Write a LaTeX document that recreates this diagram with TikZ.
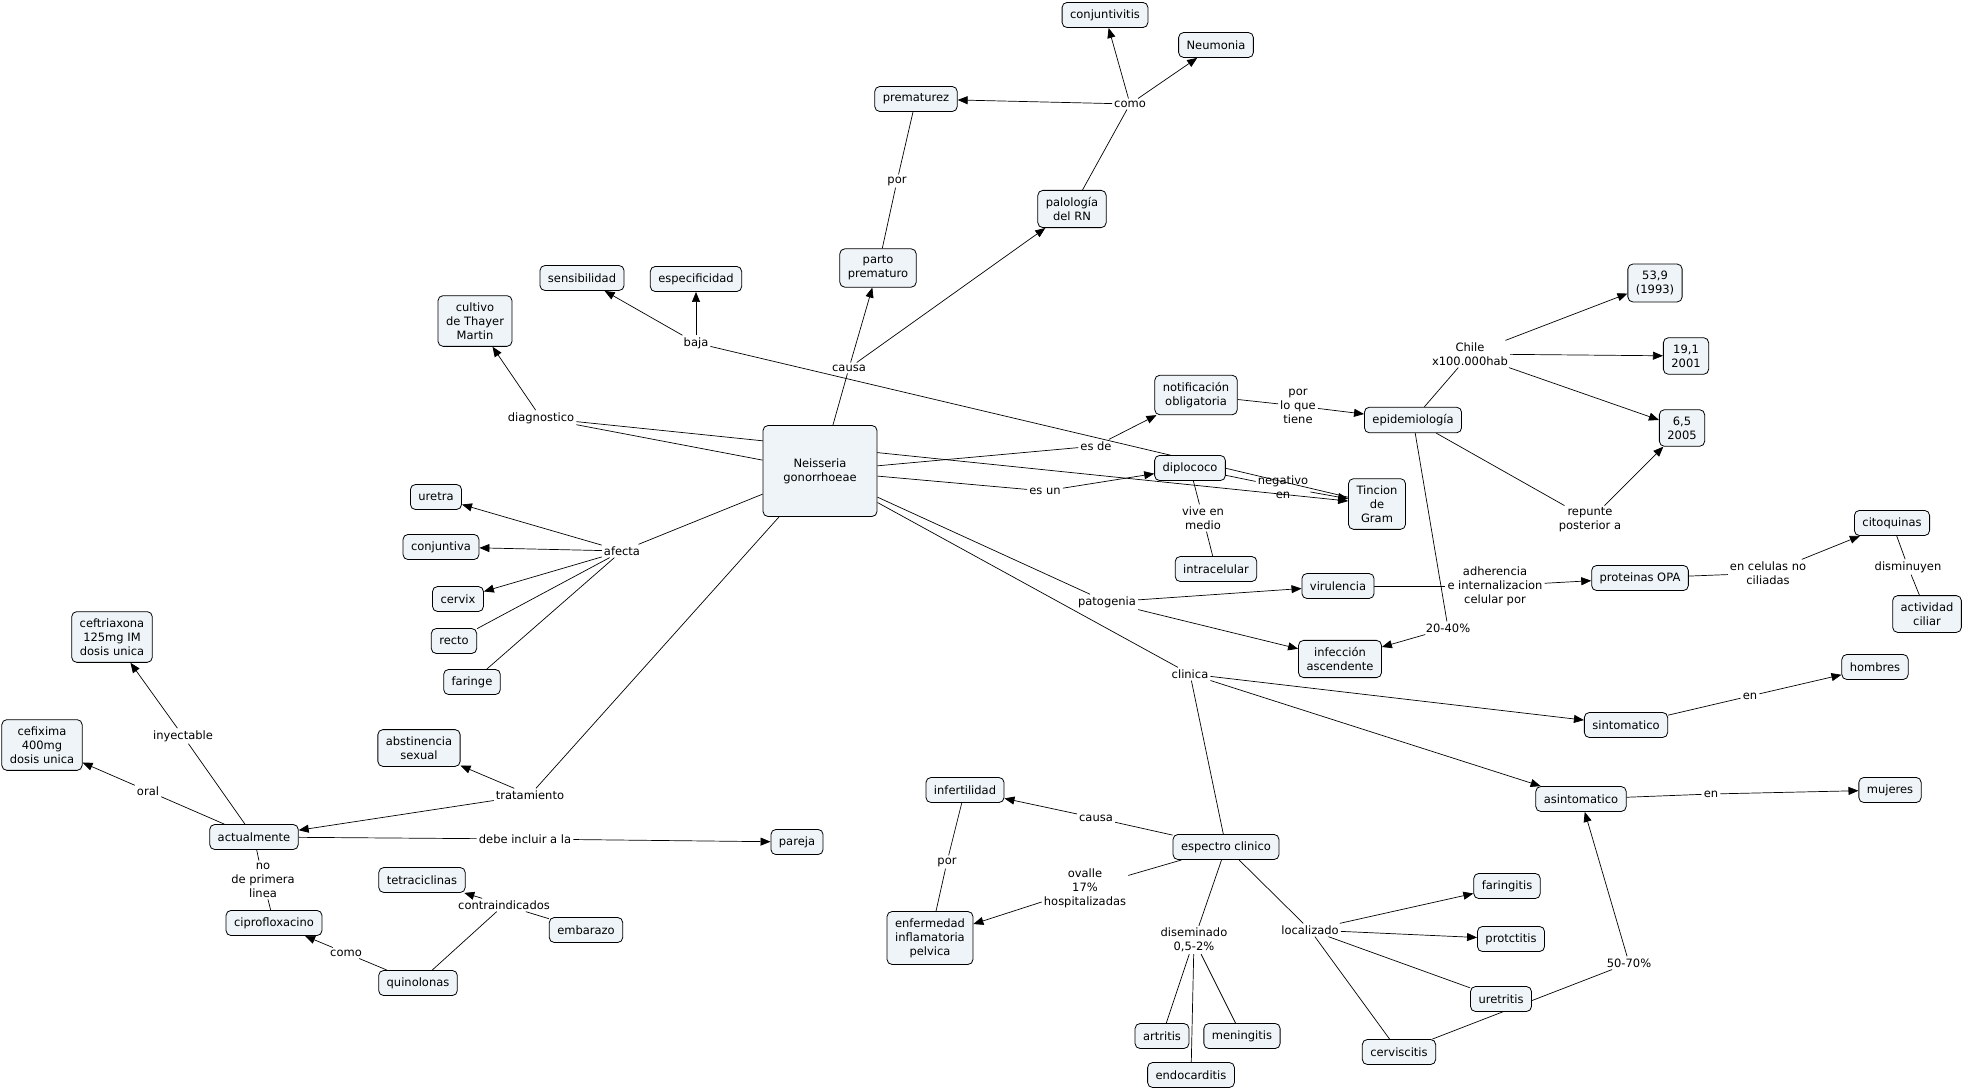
\documentclass[tikz,border=0pt]{standalone}
\usepackage{fontspec}
\setmainfont{DejaVu Sans}
\usetikzlibrary{arrows.meta,backgrounds}
\definecolor{cmapfill}{RGB}{238,244,247}
\begin{document}
\begin{tikzpicture}[x=1pt,y=-1pt,every node/.style={font=\fontsize{11.5}{13.9}\selectfont,align=center},
concept/.style={draw=black,line width=0.8pt,fill=cmapfill,rounded corners=5pt,inner xsep=8pt,inner ysep=7pt,minimum height=25pt},
phrase/.style={inner sep=2pt},
cn/.style={line width=0.7pt},
ar/.style={line width=0.7pt,-{Triangle[length=10pt,width=8pt]}}]
\useasboundingbox (0,0) rectangle (1963,1089);
\node[concept,minimum width=114pt,minimum height=91pt] (neis) at (820,471) {Neisseria\\gonorrhoeae};
\node[concept] (cult) at (475,321) {cultivo\\de Thayer\\Martin};
\node[concept] (sens) at (582,278) {sensibilidad};
\node[concept] (espe) at (696,279) {especificidad};
\node[concept] (part) at (878,268) {parto\\prematuro};
\node[concept] (prem) at (916,99) {prematurez};
\node[concept] (palo) at (1072,209) {palología\\del RN};
\node[concept] (conj) at (1105,15) {conjuntivitis};
\node[concept] (neum) at (1216,45) {Neumonia};
\node[concept] (noti) at (1196,395) {notificación\\obligatoria};
\node[concept] (epid) at (1413,420) {epidemiología};
\node[concept] (dipl) at (1190,468) {diplococo};
\node[concept] (tinc) at (1377,504) {Tincion\\de\\Gram};
\node[concept] (intr) at (1216,569) {intracelular};
\node[concept] (viru) at (1338,586) {virulencia};
\node[concept] (infe) at (1340,659) {infección\\ascendente};
\node[concept] (n539) at (1655,283) {53,9\\(1993)};
\node[concept] (n191) at (1686,356) {19,1\\2001};
\node[concept] (n65) at (1682,428) {6,5\\2005};
\node[concept] (prot) at (1640,578) {proteinas OPA};
\node[concept] (cito) at (1892,523) {citoquinas};
\node[concept] (acti) at (1927,614) {actividad\\ciliar};
\node[concept] (homb) at (1875,667) {hombres};
\node[concept] (sint) at (1626,725) {sintomatico};
\node[concept] (asin) at (1581,799) {asintomatico};
\node[concept] (muje) at (1890,790) {mujeres};
\node[concept] (uret) at (436,497) {uretra};
\node[concept] (conjt) at (441,547) {conjuntiva};
\node[concept] (cerv) at (458,599) {cervix};
\node[concept] (rect) at (454,641) {recto};
\node[concept] (fari) at (472,682) {faringe};
\node[concept] (cefr) at (112,637) {ceftriaxona\\125mg IM\\dosis unica};
\node[concept] (cefi) at (42,745) {cefixima\\400mg\\dosis unica};
\node[concept] (abst) at (419,748) {abstinencia\\sexual};
\node[concept] (actu) at (254,837) {actualmente};
\node[concept] (pare) at (797,842) {pareja};
\node[concept] (tetr) at (422,880) {tetraciclinas};
\node[concept] (emba) at (586,930) {embarazo};
\node[concept] (cipr) at (274,923) {ciprofloxacino};
\node[concept] (quin) at (418,983) {quinolonas};
\node[concept] (infr) at (965,790) {infertilidad};
\node[concept] (espc) at (1226,847) {espectro clinico};
\node[concept] (enfe) at (930,938) {enfermedad\\inflamatoria\\pelvica};
\node[concept] (artr) at (1162,1036) {artritis};
\node[concept] (meni) at (1242,1036) {meningitis};
\node[concept] (endo) at (1191,1075) {endocarditis};
\node[concept] (farg) at (1507,886) {faringitis};
\node[concept] (proc) at (1511,939) {protctitis};
\node[concept] (uretr) at (1501,999) {uretritis};
\node[concept] (cervc) at (1399,1052) {cerviscitis};
\node[phrase] (ldiag) at (541,418) {diagnostico};
\node[phrase] (lbaja) at (696,343) {baja};
\node[phrase] (lcausa) at (849,368) {causa};
\node[phrase] (lpor) at (897,181) {por};
\node[phrase] (lcomo) at (1130,104) {como};
\node[phrase] (lesde) at (1096,446) {es de};
\node[phrase] (lesun) at (1045,491) {es un};
\node[phrase] (lneg) at (1283,487) {negativo\\en};
\node[phrase] (lvive) at (1203,518) {vive en\\medio};
\node[phrase] (lporq) at (1298,406) {por\\lo que\\tiene};
\node[phrase] (lchile) at (1470,354) {Chile\\x100.000hab};
\node[phrase] (lrep) at (1590,520) {repunte\\posterior a};
\node[phrase] (l2040) at (1448,628) {20-40\%};
\node[phrase] (ladh) at (1495,586) {adherencia\\e internalizacion\\celular por};
\node[phrase] (lcelu) at (1768,573) {en celulas no\\ciliadas};
\node[phrase] (ldism) at (1908,567) {disminuyen};
\node[phrase] (lpato) at (1107,602) {patogenia};
\node[phrase] (lclin) at (1190,674) {clinica};
\node[phrase] (len1) at (1750,696) {en};
\node[phrase] (len2) at (1711,794) {en};
\node[phrase] (lafec) at (622,551) {afecta};
\node[phrase] (ltrat) at (530,795) {tratamiento};
\node[phrase] (liny) at (183,736) {inyectable};
\node[phrase] (loral) at (148,791) {oral};
\node[phrase] (ldebe) at (525,839) {debe incluir a la};
\node[phrase] (lnopr) at (263,880) {no\\de primera\\linea};
\node[phrase] (lcomo2) at (346,953) {como};
\node[phrase] (lcontra) at (504,905) {contraindicados};
\node[phrase] (lcausa2) at (1096,818) {causa};
\node[phrase] (lpor2) at (947,862) {por};
\node[phrase] (loval) at (1085,888) {ovalle\\17\%\\hospitalizadas};
\node[phrase] (ldise) at (1194,940) {diseminado\\0,5-2\%};
\node[phrase] (lloca) at (1310,930) {localizado};
\node[phrase] (l5070) at (1629,963) {50-70\%};
\begin{pgfonlayer}{background}
\draw[cn] (neis) -- (ldiag);
\foreach \t in {cult,tinc} {\draw[ar] (ldiag) -- (\t);}
\draw[cn] (tinc) -- (lbaja);
\foreach \t in {sens,espe} {\draw[ar] (lbaja) -- (\t);}
\draw[cn] (neis) -- (lcausa);
\foreach \t in {part,palo} {\draw[ar] (lcausa) -- (\t);}
\draw[cn] (prem) -- (lpor) -- (part);
\draw[cn] (palo) -- (lcomo);
\foreach \t in {prem,conj,neum} {\draw[ar] (lcomo) -- (\t);}
\draw[cn] (neis) -- (lesde);
\draw[ar] (lesde) -- (noti);
\draw[cn] (neis) -- (lesun);
\draw[ar] (lesun) -- (dipl);
\draw[cn] (dipl) -- (lneg);
\draw[ar] (lneg) -- (tinc);
\draw[cn] (dipl) -- (lvive) -- (intr);
\draw[cn] (noti) -- (lporq);
\draw[ar] (lporq) -- (epid);
\draw[cn] (epid) -- (lchile);
\foreach \t in {n539,n191,n65} {\draw[ar] (lchile) -- (\t);}
\draw[cn] (epid) -- (lrep);
\draw[ar] (lrep) -- (n65);
\draw[cn] (epid) -- (l2040);
\draw[ar] (l2040) -- (infe);
\draw[cn] (neis) -- (lpato);
\foreach \t in {viru,infe} {\draw[ar] (lpato) -- (\t);}
\draw[cn] (viru) -- (ladh);
\draw[ar] (ladh) -- (prot);
\draw[cn] (prot) -- (lcelu);
\draw[ar] (lcelu) -- (cito);
\draw[cn] (cito) -- (ldism) -- (acti);
\draw[cn] (neis) -- (lclin);
\foreach \t in {sint,asin} {\draw[ar] (lclin) -- (\t);}
\draw[cn] (lclin) -- (espc);
\draw[cn] (sint) -- (len1);
\draw[ar] (len1) -- (homb);
\draw[cn] (asin) -- (len2);
\draw[ar] (len2) -- (muje);
\draw[cn] (neis) -- (lafec);
\foreach \t in {uret,conjt,cerv} {\draw[ar] (lafec) -- (\t);}
\foreach \t in {rect,fari} {\draw[cn] (lafec) -- (\t);}
\draw[cn] (neis) -- (ltrat);
\foreach \t in {abst,actu} {\draw[ar] (ltrat) -- (\t);}
\draw[cn] (actu) -- (liny);
\draw[ar] (liny) -- (cefr);
\draw[cn] (actu) -- (loral);
\draw[ar] (loral) -- (cefi);
\draw[cn] (actu) -- (ldebe);
\draw[ar] (ldebe) -- (pare);
\draw[cn] (actu) -- (lnopr) -- (cipr);
\draw[cn] (quin) -- (lcomo2);
\draw[ar] (lcomo2) -- (cipr);
\foreach \s in {quin,emba} {\draw[cn] (\s) -- (lcontra);}
\draw[ar] (lcontra) -- (tetr);
\draw[cn] (espc) -- (lcausa2);
\draw[ar] (lcausa2) -- (infr);
\draw[cn] (infr) -- (lpor2) -- (enfe);
\draw[cn] (espc) -- (loval);
\draw[ar] (loval) -- (enfe);
\draw[cn] (espc) -- (ldise);
\foreach \t in {artr,endo,meni} {\draw[cn] (ldise) -- (\t);}
\draw[cn] (espc) -- (lloca);
\foreach \t in {farg,proc} {\draw[ar] (lloca) -- (\t);}
\foreach \t in {uretr,cervc} {\draw[cn] (lloca) -- (\t);}
\draw[cn] (cervc) -- (l5070);
\draw[ar] (l5070) -- (asin);
\end{pgfonlayer}
\end{tikzpicture}
\end{document}
